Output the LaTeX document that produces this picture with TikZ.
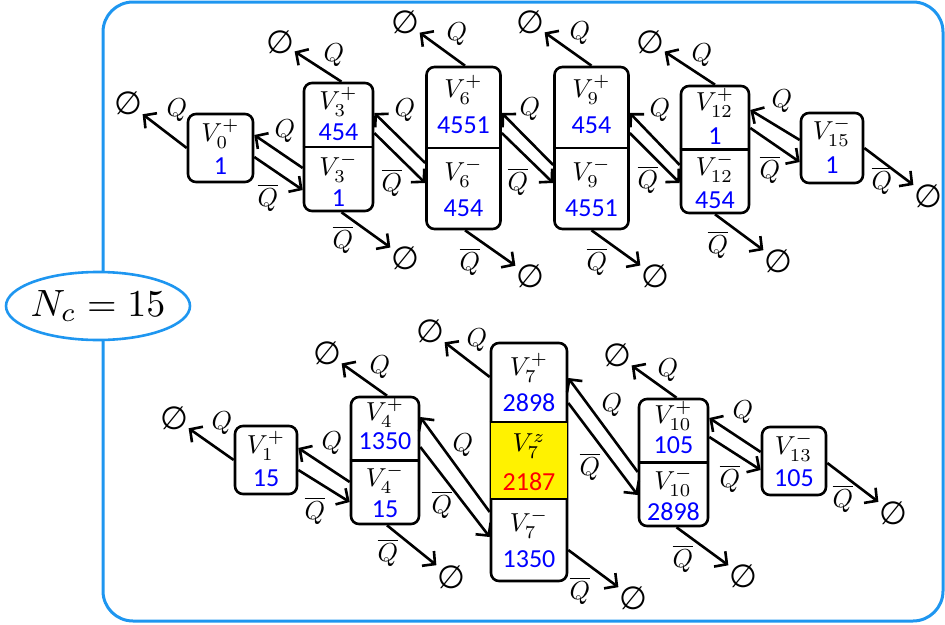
\documentclass[tikz,border=0pt]{standalone}
\usepackage{fontspec}
\newfontfamily\numfont{Carlito}
\newfontfamily\symfont{DejaVu Sans}
\usetikzlibrary{arrows.meta,shapes.geometric}
\definecolor{frameblue}{RGB}{30,150,240}
\begin{document}
\begin{tikzpicture}[x=1pt,y=-1pt,
  frame/.style={draw=frameblue, line width=3pt, rounded corners=30pt, inner sep=0pt},
  ncell/.style={ellipse, draw=frameblue, fill=white, line width=2.6pt, inner sep=0pt},
  ncl/.style={font=\normalsize, scale=3.8, inner sep=0pt},
  box/.style={draw, line width=2.6pt, rounded corners=8pt, inner sep=0pt},
  divl/.style={line width=2.6pt},
  lab/.style={font=\normalsize, scale=2.6, inner sep=0pt},
  num/.style={font=\fontsize{26}{30}\selectfont\numfont, text=blue, inner sep=0pt},
  arr/.style={line width=2.6pt, -{Straight Barb[length=9pt,width=19pt]}},
  es/.style={font=\fontsize{32}{36}\selectfont\symfont, inner sep=0.5pt},
  ql/.style={font=\normalsize, scale=2.6, inner sep=0pt}]
\useasboundingbox (0,0) rectangle (945,624);

% frame and N_c
\node[frame, minimum width=840pt, minimum height=619pt] (fr) at (523,311.5) {};
\node[ncell, minimum width=184pt, minimum height=68pt] (nc) at (98,306) {};
\node[ncl] (nct) at (nc.center) {$N_c = 15$};

% ---------- top row boxes ----------
\node[box, minimum width=65pt, minimum height=68pt] (v0) at (220.5,148) {};
\node[box, minimum width=69pt, minimum height=128pt] (v3) at (338.5,147) {};
\node[box, minimum width=74pt, minimum height=162pt] (v6) at (463.5,148) {};
\node[box, minimum width=74pt, minimum height=162pt] (v9) at (591.5,148) {};
\node[box, minimum width=68pt, minimum height=127pt] (v12) at (715,149.5) {};
\node[box, minimum width=62pt, minimum height=70pt] (v15) at (832,148) {};
\draw[divl] (v3.west) -- (v3.east);
\draw[divl] (v6.west) -- (v6.east);
\draw[divl] (v9.west) -- (v9.east);
\draw[divl] (v12.west) -- (v12.east);

\node[lab] (v0a) at (220.5,134) {$V_0^+$};
\node[num] (v0n) at (220.5,166) {1};
\node[lab] (v3a) at (338.5,102) {$V_3^+$};
\node[num] (v3n) at (338.5,132) {454};
\node[lab] (v3b) at (338.5,168) {$V_3^-$};
\node[num] (v3m) at (338.5,198) {1};
\node[lab] (v6a) at (463.5,90) {$V_6^+$};
\node[num] (v6n) at (463.5,125) {4551};
\node[lab] (v6b) at (463.5,173) {$V_6^-$};
\node[num] (v6m) at (463.5,208) {454};
\node[lab] (v9a) at (591.5,90) {$V_9^+$};
\node[num] (v9n) at (591.5,125) {454};
\node[lab] (v9b) at (591.5,173) {$V_9^-$};
\node[num] (v9m) at (591.5,208) {4551};
\node[lab] (v12a) at (715,103) {$V_{12}^+$};
\node[num] (v12n) at (715,136) {1};
\node[lab] (v12b) at (715,168) {$V_{12}^-$};
\node[num] (v12m) at (715,200) {454};
\node[lab] (v15a) at (832,132) {$V_{15}^-$};
\node[num] (v15n) at (832,165) {1};

% ---------- bottom row boxes ----------
\node[box, minimum width=62pt, minimum height=68pt] (v1) at (266,460) {};
\node[box, minimum width=68pt, minimum height=127pt] (v4) at (385,460.5) {};
\node[box, minimum width=76pt, minimum height=238pt] (v7) at (529,462) {};
\node[box, minimum width=69pt, minimum height=127pt] (v10) at (673.5,462.5) {};
\node[box, minimum width=64pt, minimum height=68pt] (v13) at (794,461) {};
\fill[yellow] ([xshift=1.3pt,yshift=40pt]v7.west) rectangle ([xshift=-1.3pt,yshift=-37pt]v7.east);
\draw[divl] ([yshift=40pt]v7.west) -- ([yshift=40pt]v7.east);
\draw[divl] ([yshift=-37pt]v7.west) -- ([yshift=-37pt]v7.east);
\draw[divl] (v4.west) -- (v4.east);
\draw[divl] (v10.west) -- (v10.east);

\node[lab] (v1a) at (266,446) {$V_1^+$};
\node[num] (v1n) at (266,478) {15};
\node[lab] (v4a) at (385,413) {$V_4^+$};
\node[num] (v4n) at (385,441) {1350};
\node[lab] (v4b) at (385,479) {$V_4^-$};
\node[num] (v4m) at (385,509) {15};
\node[lab] (v7a) at (529,368) {$V_7^+$};
\node[num] (v7n) at (529,403) {2898};
\node[lab] (v7z) at (529,446) {$V_7^z$};
\node[num, text=red] (v7y) at (529,482) {2187};
\node[lab] (v7b) at (529,524) {$V_7^-$};
\node[num] (v7m) at (529,559) {1350};
\node[lab] (v10a) at (673.5,416) {$V_{10}^+$};
\node[num] (v10n) at (673.5,445) {105};
\node[lab] (v10b) at (673.5,482) {$V_{10}^-$};
\node[num] (v10m) at (673.5,512) {2898};
\node[lab] (v13a) at (794,447) {$V_{13}^-$};
\node[num] (v13n) at (794,478) {105};

% ---------- empty-set nodes ----------
\node[es] (e0) at (128,103) {∅};
\node[es] (e3t) at (280,42) {∅};
\node[es] (e3b) at (405,258) {∅};
\node[es] (e6t) at (405,22) {∅};
\node[es] (e6b) at (530,276) {∅};
\node[es] (e9t) at (530,22) {∅};
\node[es] (e9b) at (655,276) {∅};
\node[es] (e12t) at (650,42) {∅};
\node[es] (e12b) at (778,261) {∅};
\node[es] (e15) at (928,196) {∅};
\node[es] (e1) at (174,418) {∅};
\node[es] (e4t) at (327,353) {∅};
\node[es] (e4b) at (451,577) {∅};
\node[es] (e7t) at (430,331) {∅};
\node[es] (e7b) at (633,598) {∅};
\node[es] (e10t) at (617,355) {∅};
\node[es] (e10b) at (743,576) {∅};
\node[es] (e13) at (893,513) {∅};

% ---------- top row arrows ----------
\draw[arr] (v0.west) -- (e0);
\draw[arr] ([yshift=-21pt]v3.west) -- ([yshift=13pt]v0.east);
\draw[arr] ([yshift=-9pt]v0.east) -- ([yshift=-43pt]v3.west);
\draw[arr] ([xshift=3pt]v3.north) -- (e3t);
\draw[arr] ([xshift=3pt]v3.south) -- (e3b);
\draw[arr] ([yshift=-15pt]v6.west) -- ([yshift=34pt]v3.east);
\draw[arr] ([yshift=14pt]v3.east) -- ([yshift=-35pt]v6.west);
\draw[arr] ([xshift=1.5pt]v6.north) -- (e6t);
\draw[arr] ([xshift=1.5pt]v6.south) -- (e6b);
\draw[arr] ([yshift=-17pt]v9.west) -- ([yshift=35pt]v6.east);
\draw[arr] ([yshift=15pt]v6.east) -- ([yshift=-35pt]v9.west);
\draw[arr] (v9.north) -- (e9t);
\draw[arr] (v9.south) -- (e9b);
\draw[arr] ([yshift=-15.5pt]v12.west) -- ([yshift=35pt]v9.east);
\draw[arr] ([yshift=15pt]v9.east) -- ([yshift=-33.5pt]v12.west);
\draw[arr] (v12.north) -- (e12t);
\draw[arr] (v12.south) -- (e12b);
\draw[arr] ([yshift=8pt]v15.west) -- ([yshift=39.5pt]v12.east);
\draw[arr] ([yshift=21.5pt]v12.east) -- ([yshift=-14pt]v15.west);
\draw[arr] (v15.east) -- (e15);

% ---------- bottom row arrows ----------
\draw[arr] (v1.west) -- (e1);
\draw[arr] ([yshift=-21.5pt]v4.west) -- ([yshift=12pt]v1.east);
\draw[arr] ([yshift=-10pt]v1.east) -- ([yshift=-41.5pt]v4.west);
\draw[arr] ([xshift=2pt]v4.north) -- (e4t);
\draw[arr] ([xshift=2pt]v4.south) -- (e4b);
\draw[arr] ([yshift=-50pt]v7.west) -- ([yshift=43.5pt]v4.east);
\draw[arr] ([yshift=13.5pt]v4.east) -- ([yshift=-75pt]v7.west);
\draw[arr] ([yshift=85pt]v7.west) -- (e7t);
\draw[arr] ([yshift=-88pt]v7.east) -- (e7b);
\draw[arr] ([yshift=-9.5pt]v10.west) -- ([yshift=84pt]v7.east);
\draw[arr] ([yshift=59pt]v7.east) -- ([yshift=-32.5pt]v10.west);
\draw[arr] ([xshift=3pt]v10.north) -- (e10t);
\draw[arr] ([xshift=3pt]v10.south) -- (e10b);
\draw[arr] ([yshift=9pt]v13.west) -- ([yshift=44.5pt]v10.east);
\draw[arr] ([yshift=25.5pt]v10.east) -- ([yshift=-9pt]v13.west);
\draw[arr] ([yshift=-2pt]v13.east) -- (e13);

% ---------- labels ----------
\node[ql] (q1) at (177,110) {$Q$};
\node[ql] (q2) at (285,131) {$Q$};
\node[ql] (q3) at (268,198) {$\overline{Q}$};
\node[ql] (q4) at (334,55) {$Q$};
\node[ql] (q5) at (343,240) {$\overline{Q}$};
\node[ql] (q6) at (405,110) {$Q$};
\node[ql] (q7) at (392,183) {$\overline{Q}$};
\node[ql] (q8) at (457,34) {$Q$};
\node[ql] (q9) at (470,262) {$\overline{Q}$};
\node[ql] (q10) at (530,109) {$Q$};
\node[ql] (q11) at (518,182) {$\overline{Q}$};
\node[ql] (q12) at (580,33) {$Q$};
\node[ql] (q13) at (597,262) {$\overline{Q}$};
\node[ql] (q14) at (660,110) {$Q$};
\node[ql] (q15) at (648,180) {$\overline{Q}$};
\node[ql] (q16) at (702,55) {$Q$};
\node[ql] (q17) at (718,245) {$\overline{Q}$};
\node[ql] (q18) at (782,101) {$Q$};
\node[ql] (q19) at (770,170) {$\overline{Q}$};
\node[ql] (q20) at (882,181) {$\overline{Q}$};
\node[ql] (q21) at (222,423) {$Q$};
\node[ql] (q22) at (332,443) {$Q$};
\node[ql] (q23) at (315,511) {$\overline{Q}$};
\node[ql] (q24) at (380,367) {$Q$};
\node[ql] (q25) at (388,553) {$\overline{Q}$};
\node[ql] (q26) at (463,445) {$Q$};
\node[ql] (q27) at (442,505) {$\overline{Q}$};
\node[ql] (q28) at (477,340) {$Q$};
\node[ql] (q29) at (580,591) {$\overline{Q}$};
\node[ql] (q30) at (612,405) {$Q$};
\node[ql] (q31) at (590,467) {$\overline{Q}$};
\node[ql] (q32) at (668,370) {$Q$};
\node[ql] (q33) at (683,559) {$\overline{Q}$};
\node[ql] (q34) at (743,412) {$Q$};
\node[ql] (q35) at (730,479) {$\overline{Q}$};
\node[ql] (q36) at (843,499) {$\overline{Q}$};
\end{tikzpicture}
\end{document}
